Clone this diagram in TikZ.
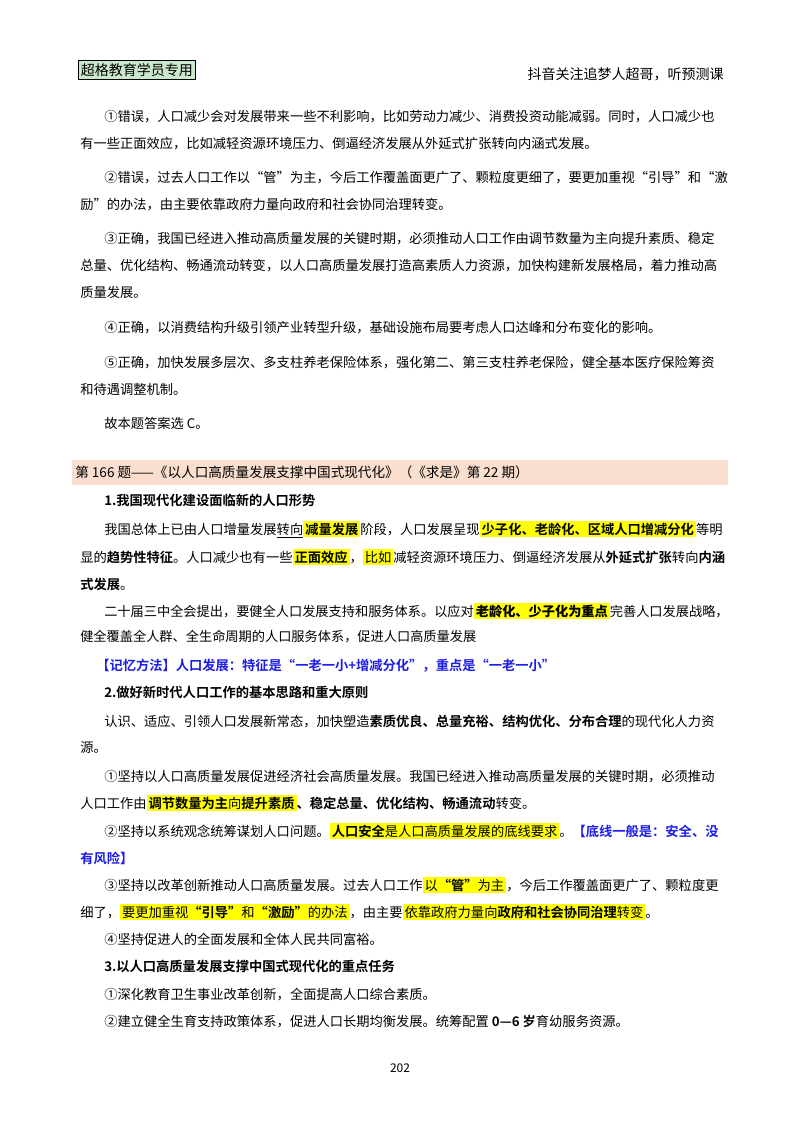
\documentclass[tikz,border=0pt]{standalone}
\usepackage{fontspec}
\setmainfont{Noto Sans CJK SC}[BoldFont={Noto Sans CJK SC Bold}]
\newfontfamily\kaif{Noto Sans CJK SC}[Scale=1]
\definecolor{hly}{RGB}{255,255,0}
\definecolor{bluet}{RGB}{30,30,230}
\definecolor{peach}{RGB}{250,222,206}
\definecolor{hdrgreen}{RGB}{204,232,204}
\newcommand{\hlt}[1]{{\setlength\fboxsep{1.5pt}\colorbox{hly}{#1}}}
\tikzset{
  txt/.style={anchor=base west,inner sep=0pt,font=\fontsize{9.95}{12}\selectfont},
  small/.style={anchor=base west,inner sep=0pt,font=\kaif\fontsize{9.9}{12}\selectfont},
}
\begin{document}
\begin{tikzpicture}[x=0.75pt,y=-0.75pt]
\fill[white] (0,0) rectangle (800,1132);
\useasboundingbox (0,0) rectangle (800,1132);
\node[draw,fill=hdrgreen,inner sep=2pt,anchor=base west,font=\fontsize{10.5}{12}\selectfont] (hdr) at (78,75) {超格教育学员专用};
\node[anchor=base east,inner sep=0pt,font=\fontsize{10.5}{12}\selectfont] (hdrr) at (724,79) {抖音关注追梦人超哥，听预测课};
\node[txt] (l1) at (104,121) {①错误，人口减少会对发展带来一些不利影响，比如劳动力减少、消费投资动能减弱。同时，人口减少也};
\node[txt] (l2) at (80,148) {有一些正面效应，比如减轻资源环境压力、倒逼经济发展从外延式扩张转向内涵式发展。};
\node[txt] (l3) at (104,182) {②错误，过去人口工作以“管”为主，今后工作覆盖面更广了、颗粒度更细了，要更加重视“引导”和“激};
\node[txt] (l4) at (80,209) {励”的办法，由主要依靠政府力量向政府和社会协同治理转变。};
\node[txt] (l5) at (104,243) {③正确，我国已经进入推动高质量发展的关键时期，必须推动人口工作由调节数量为主向提升素质、稳定};
\node[txt] (l6) at (80,270) {总量、优化结构、畅通流动转变，以人口高质量发展打造高素质人力资源，加快构建新发展格局，着力推动高};
\node[txt] (l7) at (80,297) {质量发展。};
\node[txt] (l8) at (104,332) {④正确，以消费结构升级引领产业转型升级，基础设施布局要考虑人口达峰和分布变化的影响。};
\node[txt] (l9) at (104,367) {⑤正确，加快发展多层次、多支柱养老保险体系，强化第二、第三支柱养老保险，健全基本医疗保险筹资};
\node[txt] (l10) at (80,394) {和待遇调整机制。};
\node[txt] (l11) at (104,428) {故本题答案选 C。};
\fill[peach] (72,460) rectangle (728,485);
\node[txt,font=\fontsize{10.2}{13}\selectfont] (band) at (75,477) {第 166 题——《以人口高质量发展支撑中国式现代化》（《求是》第 22 期）};
\node[txt] (s1) at (104,505) {\textbf{1.我国现代化建设面临新的人口形势}};
\node[txt] (p1) at (104,534) {我国总体上已由人口增量发展\underline{转向}\hlt{\textbf{减量发展}}阶段，人口发展呈现\hlt{\textbf{少子化、老龄化、区域人口增减分化}}等明};
\node[txt] (p2) at (80,562) {显的\textbf{趋势性特征}。人口减少也有一些\hlt{\textbf{正面效应}}，\hlt{比如}减轻资源环境压力、倒逼经济发展从\textbf{外延式扩张}转向\textbf{内涵}};
\node[txt] (p3) at (80,589) {\textbf{式发展}。};
\node[small] (k1) at (104,616) {二十届三中全会提出，要健全人口发展支持和服务体系。以应对\hlt{\textbf{老龄化、少子化为重点}}完善人口发展战略，};
\node[small] (k2) at (80,641) {健全覆盖全人群、全生命周期的人口服务体系，促进人口高质量发展};
\node[txt,text=bluet] (mem) at (96,670) {\textbf{【记忆方法】人口发展：特征是“一老一小+增减分化”，重点是“一老一小”}};
\node[txt] (s2) at (104,697) {\textbf{2.做好新时代人口工作的基本思路和重大原则}};
\node[txt] (q1) at (104,726) {认识、适应、引领人口发展新常态，加快塑造\textbf{素质优良、总量充裕、结构优化、分布合理}的现代化人力资};
\node[txt] (q2) at (80,752) {源。};
\node[txt] (q3) at (104,781) {①坚持以人口高质量发展促进经济社会高质量发展。我国已经进入推动高质量发展的关键时期，必须推动};
\node[txt] (q4) at (80,808) {人口工作由\hlt{\textbf{调节数量为主}向\textbf{提升素质}}\textbf{、稳定总量、优化结构、畅通流动}转变。};
\node[txt] (q5) at (104,836) {②坚持以系统观念统筹谋划人口问题。\hlt{\textbf{人口安全}是人口高质量发展的底线要求}。\textcolor{bluet}{\textbf{【底线一般是：安全、没}}};
\node[txt,text=bluet] (q6) at (80,863) {\textbf{有风险】}};
\node[txt] (q7) at (104,890) {③坚持以改革创新推动人口高质量发展。过去人口工作\hlt{以\textbf{“管”}为主}，今后工作覆盖面更广了、颗粒度更};
\node[txt] (q8) at (80,917) {细了，\hlt{要更加重视\textbf{“引导”}和\textbf{“激励”}的办法}，由主要\hlt{依靠政府力量向\textbf{政府和社会协同治理}转变}。};
\node[txt] (q9) at (104,944) {④坚持促进人的全面发展和全体人民共同富裕。};
\node[txt] (s3) at (104,971) {\textbf{3.以人口高质量发展支撑中国式现代化的重点任务}};
\node[txt] (r1) at (104,999) {①深化教育卫生事业改革创新，全面提高人口综合素质。};
\node[txt] (r2) at (104,1026) {②建立健全生育支持政策体系，促进人口长期均衡发展。统筹配置 \textbf{0—6 岁}育幼服务资源。};
\node[anchor=base,inner sep=0pt,font=\fontsize{9}{11}\selectfont] (pg) at (400,1072) {202};
\end{tikzpicture}
\end{document}
